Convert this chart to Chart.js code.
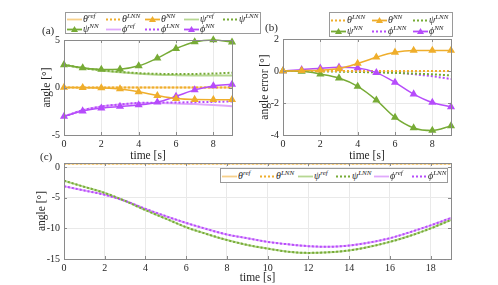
<!DOCTYPE html>
<html>
<head>
<meta charset="utf-8">
<script src="https://cdn.jsdelivr.net/npm/chart.js@4"></script>
<style>
body { margin:0; width:498px; height:285px; position:relative; overflow:hidden; background:#fff; font-family:'Liberation Serif', serif; color:#262626; }
canvas { position:absolute; }
.lg { position:absolute; background:#fff; border:1px solid #9a9a9a; display:grid; box-sizing:border-box; z-index:5; font-size:10px; padding:1px 0 0 1px; }
.it { display:flex; align-items:center; white-space:nowrap; height:10px; }
.it span { margin-left:1px; font-style:italic; line-height:10px; }
.it sup { font-size:7px; vertical-align:4px; line-height:0; }
.pl { position:absolute; font-size:11px; z-index:5; }
</style>
</head>
<body>
<canvas id="chartA" width="210" height="163" style="left:40px;top:0px"></canvas>
<canvas id="chartB" width="240" height="163" style="left:258px;top:0px"></canvas>
<canvas id="chartC" width="463" height="135" style="left:35px;top:150px"></canvas>
<div class="pl" style="left:42px;top:24px">(a)</div>
<div class="pl" style="left:265px;top:21px">(b)</div>
<div class="pl" style="left:40px;top:150px">(c)</div>
<div class="lg" id="legA" style="left:65px;top:12px;width:196px;height:22px;grid-template-columns:repeat(5,39px)"></div>
<div class="lg" id="legB" style="left:329px;top:12px;width:124px;height:25px;grid-template-columns:repeat(3,41px);padding-top:2px"></div>
<div class="lg" id="legC" style="left:220px;top:168px;width:228px;height:15px;grid-template-columns:repeat(6,38px);padding-top:2px"></div>
<script>
// (a) 角度估计, 时间 0..9 s
var timeA = [0, 1, 2, 3, 4, 5, 6, 7, 8, 9];
var thetaRefA = [0, 0, 0, 0, 0, 0, 0, 0, 0, 0];
var thetaLnnA = [0, 0, 0, 0, 0, 0, 0, 0, 0, 0];
var thetaNnA  = [0, -0.02, -0.05, -0.15, -0.45, -0.85, -1.17, -1.27, -1.28, -1.28];
var psiRefA = [2.39, 2.05, 1.8, 1.6, 1.45, 1.35, 1.3, 1.27, 1.26, 1.26];
var psiLnnA = [2.39, 2.05, 1.82, 1.64, 1.51, 1.44, 1.42, 1.43, 1.47, 1.56];
var psiNnA  = [2.39, 2.07, 1.9, 1.93, 2.28, 3.09, 4.1, 4.8, 5.0, 4.77];
var phiRefA = [-3.05, -2.4, -2.0, -1.78, -1.65, -1.64, -1.68, -1.74, -1.84, -1.97];
var phiLnnA = [-3.05, -2.4, -2.0, -1.78, -1.63, -1.59, -1.58, -1.54, -1.51, -1.47];
var phiNnA  = [-3.05, -2.48, -2.17, -2.0, -1.84, -1.55, -0.93, -0.25, 0.17, 0.33];

// (b) 角度误差
var errThetaLnn = [0, 0, 0, 0, 0, 0, 0, 0, 0, 0];
var errThetaNn  = [0, 0.02, 0.05, 0.15, 0.47, 0.86, 1.17, 1.28, 1.28, 1.28];
var errPsiLnn = [0, 0, -0.02, -0.04, -0.06, -0.09, -0.12, -0.16, -0.21, -0.28];
var errPsiNn  = [0, -0.02, -0.19, -0.44, -0.96, -1.82, -2.9, -3.56, -3.72, -3.43];
var errPhiLnn = [0, 0, 0, 0, -0.02, -0.05, -0.1, -0.2, -0.33, -0.5];
var errPhiNn  = [0, 0.08, 0.17, 0.23, 0.19, -0.1, -0.71, -1.44, -1.97, -2.24];

// (c) 时间 0..19 s
var timeC = [0, 1, 2, 3, 4, 5, 6, 7, 8, 9, 10, 11, 12, 13, 14, 15, 16, 17, 18, 19];
var thetaRefC = [0.6, 0.6, 0.6, 0.6, 0.6, 0.6, 0.6, 0.6, 0.6, 0.6, 0.6, 0.6, 0.6, 0.6, 0.6, 0.6, 0.6, 0.6, 0.6, 0.6];
var thetaLnnC = [0.6, 0.6, 0.6, 0.6, 0.6, 0.6, 0.6, 0.6, 0.6, 0.6, 0.6, 0.6, 0.6, 0.6, 0.6, 0.6, 0.6, 0.6, 0.6, 0.6];
var psiRefC = [-2.2, -3.2, -4.2, -5.5, -7.0, -8.4, -9.8, -10.9, -11.9, -12.7, -13.3, -13.8, -14.0, -13.9, -13.6, -13.0, -12.2, -11.2, -10.0, -8.6];
var psiLnnC = [-2.2, -3.2, -4.2, -5.5, -7.0, -8.4, -9.8, -10.9, -11.9, -12.7, -13.3, -13.8, -14.0, -13.9, -13.6, -13.0, -12.2, -11.2, -10.0, -8.6];
var phiRefC = [-3.1, -3.8, -4.5, -5.5, -6.8, -8.0, -9.1, -10.1, -11.0, -11.6, -12.2, -12.6, -12.9, -13.0, -12.8, -12.3, -11.6, -10.6, -9.5, -8.3];
var phiLnnC = [-3.1, -3.8, -4.5, -5.5, -6.8, -8.0, -9.1, -10.1, -11.0, -11.6, -12.2, -12.6, -12.9, -13.0, -12.8, -12.3, -11.6, -10.6, -9.5, -8.3];

// 刻度
var ticksAx = [0, 2, 4, 6, 8];
var ticksAy = [-5, 0, 5];
var ticksBy = [-4, -2, 0, 2];
var ticksCx = [0, 2, 4, 6, 8, 10, 12, 14, 16, 18];
var ticksCy = [-15, -10, -5, 0];

var colors = { theta: '#efae2c', psi: '#77ab36', phi: '#b64cfb' };
var lightColors = { theta: '#f7d08a', psi: '#b6d792', phi: '#e0a9fc' };
var greek = { theta: 'θ', psi: 'ψ', phi: 'ϕ' };

function makeSet(v, kind, xs, ys) {
    var s = {
        label: greek[v] + kind,
        data: xs.map(function (x, i) { return { x: x, y: ys[i] }; }),
        borderWidth: 1.5,
        pointRadius: 0,
        cubicInterpolationMode: 'monotone',
        fill: false
    };
    if (kind === 'ref') { s.borderColor = lightColors[v]; s.borderWidth = 2; s.order = 3; }
    if (kind === 'LNN') { s.borderColor = colors[v]; s.borderDash = [2, 2]; s.borderWidth = 2; s.order = 2; }
    if (kind === 'NN') {
        s.borderColor = colors[v]; s.order = 1; s.clip = false;
        s.pointStyle = 'triangle'; s.pointRadius = 3.2;
        s.pointBackgroundColor = colors[v]; s.pointBorderColor = colors[v];
    }
    return s;
}

function axisOpts(min, max, tickVals, title, isX, size) {
    return {
        type: 'linear', min: min, max: max,
        afterBuildTicks: function (s) { s.ticks = tickVals.map(function (v) { return { value: v }; }); },
        afterFit: function (s) { if (isX) s.height = size; else s.width = size; },
        grid: { color: '#e9e9e9', drawTicks: false, lineWidth: 1 },
        border: { display: false },
        ticks: { color: '#262626', font: { family: 'Liberation Serif', size: 10 }, padding: isX ? 3 : 4, maxRotation: 0, autoSkip: false },
        title: { display: true, text: title, color: '#262626', font: { family: 'Liberation Serif', size: 11.5 }, padding: 0 }
    };
}

// 外框和向内的刻度
var framePlugin = {
    id: 'frame',
    afterDatasetsDraw: function (chart) {
        var a = chart.chartArea, ctx = chart.ctx;
        ctx.save();
        ctx.strokeStyle = '#8a8a8a';
        ctx.lineWidth = 1;
        ctx.beginPath();
        chart.scales.x.ticks.forEach(function (t) {
            var px = Math.round(chart.scales.x.getPixelForValue(t.value)) + 0.5;
            ctx.moveTo(px, a.bottom); ctx.lineTo(px, a.bottom - 3);
            ctx.moveTo(px, a.top); ctx.lineTo(px, a.top + 3);
        });
        chart.scales.y.ticks.forEach(function (t) {
            var py = Math.round(chart.scales.y.getPixelForValue(t.value)) + 0.5;
            ctx.moveTo(a.left, py); ctx.lineTo(a.left + 3, py);
            ctx.moveTo(a.right, py); ctx.lineTo(a.right - 3, py);
        });
        ctx.stroke();
        ctx.strokeRect(Math.round(a.left) + 0.5, Math.round(a.top) + 0.5, Math.round(a.right - a.left), Math.round(a.bottom - a.top));
        ctx.restore();
    }
};

function makeChart(id, sets, x, y, pad) {
    return new Chart(document.getElementById(id), {
        type: 'line',
        data: { datasets: sets },
        options: {
            responsive: false, animation: false,
            layout: { padding: pad },
            plugins: { legend: { display: false }, tooltip: { enabled: false } },
            scales: { x: x, y: y }
        },
        plugins: [framePlugin]
    });
}

makeChart('chartA', [
    makeSet('theta', 'ref', timeA, thetaRefA), makeSet('theta', 'LNN', timeA, thetaLnnA), makeSet('theta', 'NN', timeA, thetaNnA),
    makeSet('psi', 'ref', timeA, psiRefA), makeSet('psi', 'LNN', timeA, psiLnnA), makeSet('psi', 'NN', timeA, psiNnA),
    makeSet('phi', 'ref', timeA, phiRefA), makeSet('phi', 'LNN', timeA, phiLnnA), makeSet('phi', 'NN', timeA, phiNnA)
], axisOpts(0, 9, ticksAx, 'time [s]', true, 28), axisOpts(-5, 5, ticksAy, 'angle [°]', false, 24),
   { top: 40, right: 18, left: 0, bottom: 0 });

makeChart('chartB', [
    makeSet('theta', 'LNN', timeA, errThetaLnn), makeSet('theta', 'NN', timeA, errThetaNn),
    makeSet('psi', 'LNN', timeA, errPsiLnn), makeSet('psi', 'NN', timeA, errPsiNn),
    makeSet('phi', 'LNN', timeA, errPhiLnn), makeSet('phi', 'NN', timeA, errPhiNn)
], axisOpts(0, 9, ticksAx, 'time [s]', true, 28), axisOpts(-4, 2, ticksBy, 'angle error [°]', false, 25),
   { top: 39, right: 47, left: 0, bottom: 0 });

makeChart('chartC', [
    makeSet('theta', 'ref', timeC, thetaRefC), makeSet('theta', 'LNN', timeC, thetaLnnC),
    makeSet('psi', 'ref', timeC, psiRefC), makeSet('psi', 'LNN', timeC, psiLnnC),
    makeSet('phi', 'ref', timeC, phiRefC), makeSet('phi', 'LNN', timeC, phiLnnC)
], axisOpts(0, 19, ticksCx, 'time [s]', true, 26), axisOpts(-15, 0.7, ticksCy, 'angle [°]', false, 29),
   { top: 13, right: 47, left: 0, bottom: 0 });

// HTML 图例 (上标)
function sample(v, kind) {
    var c = kind === 'ref' ? lightColors[v] : colors[v];
    var dash = kind === 'LNN' ? ' stroke-dasharray="2 2"' : '';
    var tri = kind === 'NN' ? '<polygon points="7.5,1 11,7 4,7" fill="' + c + '"/>' : '';
    return '<svg width="15" height="8"><line x1="0" y1="4.5" x2="15" y2="4.5" stroke="' + c + '" stroke-width="1.8"' + dash + '/>' + tri + '</svg>';
}
function fillLegend(id, items) {
    document.getElementById(id).innerHTML = items.map(function (p) {
        return '<div class="it">' + sample(p[0], p[1]) + '<span>' + greek[p[0]] + '<sup>' + p[1] + '</sup></span></div>';
    }).join('');
}
fillLegend('legA', [['theta', 'ref'], ['theta', 'LNN'], ['theta', 'NN'], ['psi', 'ref'], ['psi', 'LNN'],
                    ['psi', 'NN'], ['phi', 'ref'], ['phi', 'LNN'], ['phi', 'NN']]);
fillLegend('legB', [['theta', 'LNN'], ['theta', 'NN'], ['psi', 'LNN'], ['psi', 'NN'], ['phi', 'LNN'], ['phi', 'NN']]);
fillLegend('legC', [['theta', 'ref'], ['theta', 'LNN'], ['psi', 'ref'], ['psi', 'LNN'], ['phi', 'ref'], ['phi', 'LNN']]);
</script>
</body>
</html>
